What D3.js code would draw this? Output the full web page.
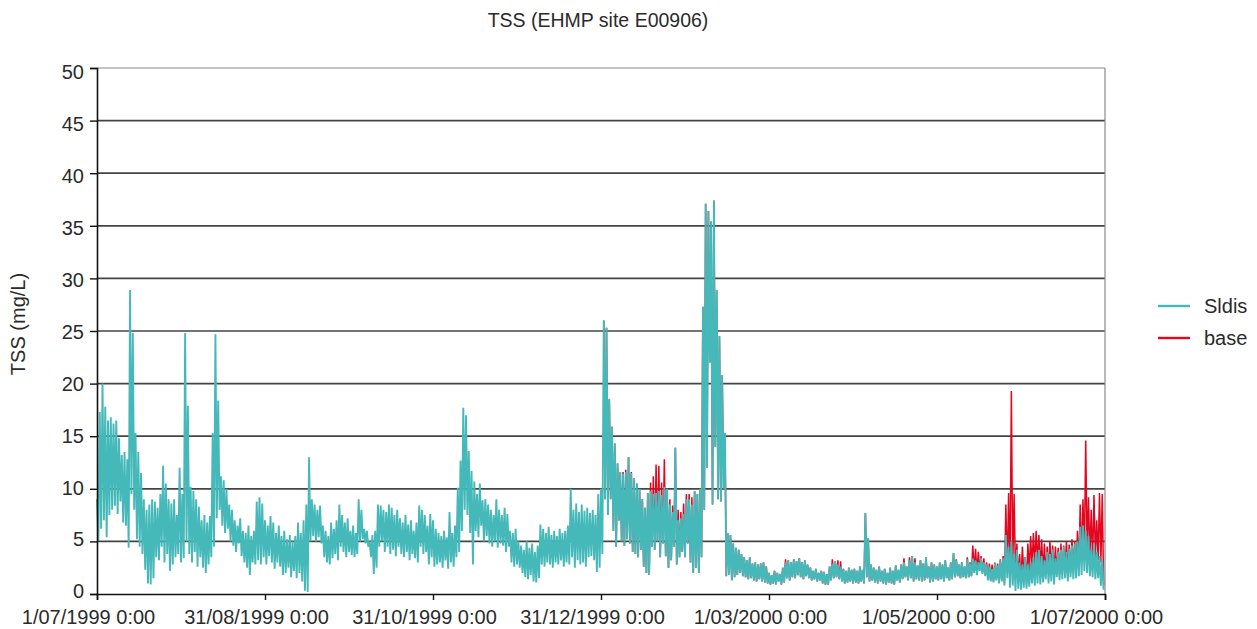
<!DOCTYPE html>
<html>
<head>
<meta charset="utf-8">
<script src="https://cdn.jsdelivr.net/npm/d3@7"></script>
<style>
  body { margin: 0; background: #fff; }
  text { font-family: "Liberation Sans", Arial, sans-serif; fill: #2b2b2b; }
</style>
</head>
<body>
<div id="chart"></div>
<script>
// daily high / low TSS values (mg/L)
const sldisStart = new Date(1999, 6, 1);
const sldisHigh = [
  // Jul 1999
  9.0,17.3,20.0,17.8,16.5,16.8,16.2,16.5,14.8,13.2,13.5,12.8,28.9,24.8,15.3,13.5,11.5,9.0,8.0,8.5,9.0,8.8,8.2,9.5,12.2,10.5,9.0,8.6,9.0,7.5,12.0,
  // Aug
  9.5,24.8,17.9,10.2,9.8,9.0,8.3,7.0,7.5,6.8,7.4,15.3,24.7,18.4,11.2,10.8,10.0,8.5,8.0,7.0,6.5,7.2,6.0,5.8,6.5,5.5,6.0,8.8,9.2,8.6,7.0,
  // Sep
  6.5,7.4,6.8,5.8,6.5,5.5,6.0,5.2,5.6,5.0,5.5,6.8,5.8,7.0,8.5,13.0,9.0,8.5,8.0,8.4,6.5,6.0,5.5,6.8,6.2,7.0,8.5,7.5,6.8,7.2,
  // Oct
  6.0,6.5,5.8,9.0,8.0,6.2,6.0,5.0,5.6,6.0,8.5,8.4,8.0,7.8,8.5,8.2,7.5,8.0,7.2,6.8,7.5,6.6,7.0,6.0,6.8,8.4,8.0,7.5,6.5,7.6,7.0,
  // Nov
  6.2,5.8,5.5,6.0,5.4,7.8,5.8,6.5,10.1,12.7,17.7,17.0,13.6,11.7,10.7,9.5,10.5,8.9,9.0,8.5,8.0,7.5,9.0,8.0,7.5,8.2,7.6,6.0,5.8,6.2,
  // Dec
  5.0,4.6,4.2,5.0,4.4,4.8,4.0,4.6,6.6,6.2,5.8,6.4,5.6,6.0,5.5,6.2,5.8,6.0,6.5,10.0,8.0,8.6,7.8,8.5,7.9,8.2,7.7,8.0,7.5,9.5,10.0,
  // Jan 2000
  26.0,25.3,18.5,15.9,14.3,12.4,11.6,11.4,11.6,13.0,11.5,11.0,10.5,10.0,9.0,8.2,9.6,9.8,9.5,9.6,9.8,9.4,10.2,10.0,8.5,7.8,13.9,7.0,7.2,7.6,9.0,
  // Feb
  9.0,8.5,9.8,9.5,10.0,27.3,37.1,36.4,35.4,37.4,28.9,24.5,20.8,15.3,5.8,5.6,4.8,4.4,4.2,3.8,3.5,3.2,3.5,2.9,3.0,2.8,2.9,3.0,2.6,
  // Mar
  2.0,1.8,2.2,2.0,1.9,2.5,3.0,3.2,3.0,3.3,3.1,3.4,3.0,3.2,2.8,2.5,2.2,2.4,2.0,2.2,2.1,1.9,2.6,2.9,3.1,2.8,2.6,2.4,2.2,2.5,2.3,
  // Apr
  2.4,2.2,2.6,2.3,7.7,5.3,2.8,2.5,2.3,2.6,2.2,2.4,2.0,2.5,2.2,2.7,2.3,2.8,3.0,2.6,3.2,3.6,3.0,2.7,3.2,2.9,3.5,2.6,3.0,2.8,
  // May
  2.6,3.0,2.8,3.2,2.5,3.0,3.9,3.2,2.8,3.0,2.6,3.3,2.9,3.4,3.2,3.0,3.4,3.0,2.8,2.6,2.4,2.9,2.7,3.2,3.4,5.6,4.5,5.0,3.8,4.2,3.0,
  // Jun
  2.8,3.5,2.8,3.0,3.5,4.0,4.2,3.6,3.2,4.0,3.8,4.2,3.4,4.0,4.2,4.5,4.0,4.3,4.6,4.8,5.0,6.4,6.5,6.0,5.5,4.2,4.8,4.0,3.6,3.2
];
const sldisLow = [
  5.1,6.2,7.0,5.4,7.5,8.0,8.4,7.6,8.8,6.8,6.5,4.4,9.5,8.0,5.2,4.5,3.8,2.3,1.0,0.9,1.5,3.5,3.2,4.5,3.0,3.8,2.2,2.8,3.5,3.8,3.0,
  3.4,5.0,3.8,3.0,4.0,2.6,3.5,2.5,2.0,2.8,3.5,4.5,7.2,8.0,6.5,5.8,6.2,5.0,4.6,4.0,4.8,3.6,3.0,2.5,1.8,3.0,2.8,3.2,2.8,3.5,2.8,
  3.6,3.0,2.4,3.0,2.6,1.8,2.0,2.5,1.6,2.2,1.5,2.0,1.2,0.3,0.2,5.0,5.5,5.0,5.4,4.8,3.5,3.0,2.8,3.4,3.8,3.2,4.5,4.0,3.5,4.0,
  3.7,3.5,3.8,5.0,5.2,4.8,4.5,3.5,1.9,2.5,4.5,5.0,4.0,4.5,3.8,4.2,3.6,4.5,3.8,3.5,4.0,3.2,3.8,3.4,3.0,4.5,3.8,4.0,2.8,3.5,2.6,
  2.8,3.0,2.5,3.2,2.4,3.0,2.6,3.5,4.0,6.0,8.0,7.5,5.8,2.8,6.0,5.4,6.5,5.0,5.5,4.8,4.5,5.0,4.4,4.8,4.6,4.0,4.5,3.0,2.6,2.8,
  2.5,2.0,1.6,1.4,1.8,1.2,1.1,1.5,2.8,2.6,3.0,2.8,2.5,3.0,2.8,3.2,2.6,3.0,2.8,3.5,2.5,3.2,2.8,3.0,2.6,3.5,3.6,3.2,2.1,2.5,3.8,
  9.0,7.5,9.0,6.0,4.5,7.0,5.0,4.6,5.2,4.8,4.0,3.8,3.5,4.2,2.6,2.0,1.8,4.5,4.2,5.0,3.5,4.8,3.6,2.5,3.2,4.5,2.8,3.5,4.0,3.5,4.8,
  3.0,2.0,2.5,2.0,3.5,8.0,12.0,22.0,8.5,14.0,9.0,8.8,10.0,1.7,1.8,1.3,1.6,1.8,2.0,1.7,1.6,1.4,1.5,1.3,1.2,1.4,1.2,1.1,1.0,
  0.9,1.0,0.9,1.2,0.9,1.1,1.5,1.3,1.6,1.5,1.8,1.6,1.4,1.7,1.5,1.3,1.4,1.2,1.3,1.0,0.9,0.9,1.3,1.5,1.6,1.4,1.2,1.0,1.1,1.2,1.0,
  1.1,1.0,1.2,1.0,1.6,1.2,1.3,1.1,1.0,1.2,1.0,0.9,1.1,1.0,0.9,1.3,1.1,1.4,1.6,1.3,1.5,1.2,1.4,1.3,1.2,1.3,1.5,1.1,1.2,1.4,
  1.3,1.4,1.2,1.5,1.3,1.4,1.6,1.7,1.5,1.6,1.5,1.6,1.7,2.0,1.8,2.2,1.9,1.7,1.3,1.2,1.1,1.3,1.0,1.2,0.8,1.5,0.6,0.8,0.3,0.5,0.4,
  0.6,0.5,0.7,1.0,0.8,1.0,0.9,1.1,1.4,1.0,1.2,0.9,1.6,1.3,1.4,1.5,1.2,1.6,1.4,1.5,1.7,1.8,2.2,2.0,1.7,1.6,1.4,1.5,0.8,0.4
];

// "base" run: identical to Sldis in 1999, so only Jan-Jun 2000 is listed
const baseStart = new Date(2000, 0, 1);
const baseHigh = [
  // Jan
  26.0,25.3,18.5,15.9,14.3,12.4,11.6,11.6,11.8,13.0,11.6,11.0,10.5,10.0,9.0,8.2,9.6,10.6,11.2,12.3,12.2,10.6,12.8,10.0,9.0,8.4,13.9,8.0,7.8,8.6,9.5,
  // Feb
  9.5,9.2,9.8,9.5,10.0,27.3,37.1,36.4,35.4,37.4,28.9,24.5,20.8,15.3,5.8,5.6,4.8,4.4,4.2,3.8,3.5,3.2,3.5,2.9,3.0,2.8,2.9,3.0,2.6,
  // Mar
  2.0,1.8,2.2,2.0,1.9,2.5,3.3,3.2,3.0,3.3,3.1,3.4,3.0,3.2,2.8,2.5,2.2,2.4,2.0,2.2,2.1,1.9,2.6,3.3,3.1,3.2,3.1,2.4,2.2,2.5,2.3,
  // Apr
  2.4,2.2,2.6,2.3,7.7,5.3,2.8,2.5,2.3,2.6,2.2,2.4,2.0,2.5,2.2,2.7,2.3,2.8,3.4,2.6,3.5,3.6,3.4,2.7,3.2,2.9,3.5,2.6,3.0,2.8,
  // May
  2.6,3.0,2.8,3.2,2.5,3.0,3.9,3.3,2.8,3.0,2.6,3.5,3.0,4.6,4.3,4.0,3.6,3.4,3.0,2.9,2.8,3.0,2.9,3.3,3.6,8.5,9.6,19.3,9.5,4.8,3.8,
  // Jun
  4.5,3.5,4.8,5.5,5.8,6.0,5.6,5.2,4.8,4.5,5.0,4.6,4.5,4.4,4.8,4.6,5.0,4.7,5.2,5.0,6.0,8.5,9.0,14.6,9.2,8.0,9.4,7.0,9.6,9.5
];
const baseLow = [
  9.0,7.5,9.0,6.0,4.5,7.0,5.0,4.6,5.2,4.8,4.0,3.8,3.5,4.2,2.6,2.0,1.8,4.5,4.2,5.0,3.5,4.8,3.6,2.5,3.2,4.5,2.8,3.5,4.0,3.5,4.8,
  3.0,2.0,2.5,2.0,3.5,8.0,12.0,22.0,8.5,14.0,9.0,8.8,10.0,1.7,1.8,1.3,1.6,1.8,2.0,1.7,1.6,1.4,1.5,1.3,1.2,1.4,1.2,1.1,1.0,
  0.9,1.0,0.9,1.2,0.9,1.1,1.5,1.3,1.6,1.5,1.8,1.6,1.4,1.7,1.5,1.3,1.4,1.2,1.3,1.0,0.9,0.9,1.3,1.5,1.6,1.4,1.2,1.0,1.1,1.2,1.0,
  1.1,1.0,1.2,1.0,1.6,1.2,1.3,1.1,1.0,1.2,1.0,0.9,1.1,1.0,0.9,1.3,1.1,1.4,1.6,1.3,1.5,1.2,1.4,1.3,1.2,1.3,1.5,1.1,1.2,1.4,
  1.3,1.4,1.2,1.5,1.3,1.4,1.6,1.7,1.5,1.6,1.5,1.6,1.7,2.2,2.0,2.3,2.0,1.8,1.5,1.3,1.2,1.4,1.2,1.3,1.0,2.0,1.5,2.5,1.8,1.5,1.2,
  2.0,1.0,2.2,2.5,2.8,3.0,2.4,2.0,1.8,2.0,2.2,1.9,2.0,1.8,2.0,2.2,2.1,2.0,2.3,2.0,2.4,3.0,3.5,4.0,3.5,3.0,3.5,3.2,3.0,0.8
];

const xTickDates = [
  new Date(1999, 6, 1), new Date(1999, 7, 31), new Date(1999, 9, 31),
  new Date(1999, 11, 31), new Date(2000, 2, 1), new Date(2000, 4, 1), new Date(2000, 6, 1)
];
const yTicks = [0, 5, 10, 15, 20, 25, 30, 35, 40, 45, 50];
const seriesNames = ['Sldis', 'base'];
const seriesColors = ['#45b9b9', '#e3061e'];

let width  = 1257;
let height = 629;
let margin = {top: 68, right: 152, bottom: 35, left: 97};

let svg = d3.select('#chart')
  .append('svg')
  .attr('width', width)
  .attr('height', height);

let xScale = d3.scaleTime()
  .domain([xTickDates[0], xTickDates[xTickDates.length - 1]])
  .range([margin.left, width - margin.right]);

let yScale = d3.scaleLinear()
  .domain([0, 50])
  .range([height - margin.bottom, margin.top]);

// gridlines
svg.append('g')
  .selectAll('line')
  .data(yTicks.filter(d => d > 0))
  .enter()
  .append('line')
    .attr('x1', margin.left)
    .attr('x2', width - margin.right)
    .attr('y1', d => yScale(d))
    .attr('y2', d => yScale(d))
    .style('stroke', d => d === 50 ? '#8a8a8a' : '#444')
    .style('stroke-width', d => d === 50 ? 1.2 : 1.7);

// right border of plot area
svg.append('line')
  .attr('x1', width - margin.right).attr('x2', width - margin.right)
  .attr('y1', margin.top).attr('y2', height - margin.bottom)
  .style('stroke', '#8a8a8a')
  .style('stroke-width', 1.2);

// turn daily high/low pairs into a zigzag of points
function toPoints(start, hi, lo) {
  let pts = [];
  hi.forEach((h, i) => {
    pts.push({t: d3.timeHour.offset(start, i * 24), v: h});
    pts.push({t: d3.timeHour.offset(start, i * 24 + 12), v: lo[i]});
  });
  return pts;
}

let line = d3.line()
  .x(d => xScale(d.t))
  .y(d => yScale(d.v));

// base first, a bit thinner, so Sldis covers it wherever the two agree
svg.append('path')
  .datum(toPoints(baseStart, baseHigh, baseLow))
  .attr('d', line)
  .style('fill', 'none')
  .style('stroke', seriesColors[1])
  .style('stroke-width', 1.5);

svg.append('path')
  .datum(toPoints(sldisStart, sldisHigh, sldisLow))
  .attr('d', line)
  .style('fill', 'none')
  .style('stroke', seriesColors[0])
  .style('stroke-width', 1.9);

// y-axis
let yAxis = svg.append('g')
  .attr('transform', `translate(${margin.left}, 0)`)
  .call(d3.axisLeft(yScale).tickValues(yTicks).tickSize(7).tickPadding(6));
yAxis.select('.domain').style('stroke', '#111').style('stroke-width', 1.6);
yAxis.selectAll('.tick line').style('stroke', '#111').style('stroke-width', 1.4);
// labels sit a little low at the top and a little high at the bottom, as in the source
yAxis.selectAll('text')
  .style('font-size', '20px')
  .attr('y', d => -2.5 + 6.5 * d / 50);

// x-axis
let xAxis = svg.append('g')
  .attr('transform', `translate(0, ${height - margin.bottom})`)
  .call(d3.axisBottom(xScale)
    .tickValues(xTickDates)
    .tickFormat(d3.timeFormat('%-d/%m/%Y %-H:%M'))
    .tickSize(6));
xAxis.select('.domain').style('stroke', '#111').style('stroke-width', 1.6);
xAxis.selectAll('.tick line').style('stroke', '#111').style('stroke-width', 1.4);
xAxis.selectAll('text')
  .style('font-size', '20px')
  .attr('dy', 0)
  .attr('y', 30)
  .attr('x', -9);

// title
svg.append('text')
  .attr('x', 598)
  .attr('y', 27)
  .style('text-anchor', 'middle')
  .style('font-size', '19.5px')
  .text('TSS (EHMP site E00906)');

// y label
svg.append('text')
  .attr('transform', 'rotate(-90)')
  .attr('x', -324)
  .attr('y', 25)
  .style('text-anchor', 'middle')
  .style('font-size', '20px')
  .text('TSS (mg/L)');

// legend
let legend = svg.append('g')
  .selectAll('g')
  .data(seriesNames)
  .enter()
  .append('g')
    .attr('transform', (d, i) => `translate(1158, ${306 + i * 32})`);

legend.append('line')
  .attr('x1', 0).attr('x2', 32)
  .style('stroke', (d, i) => seriesColors[i])
  .style('stroke-width', 2.4);

legend.append('text')
  .attr('x', 46)
  .attr('y', 7)
  .style('font-size', '20px')
  .text(d => d);
</script>
</body>
</html>
